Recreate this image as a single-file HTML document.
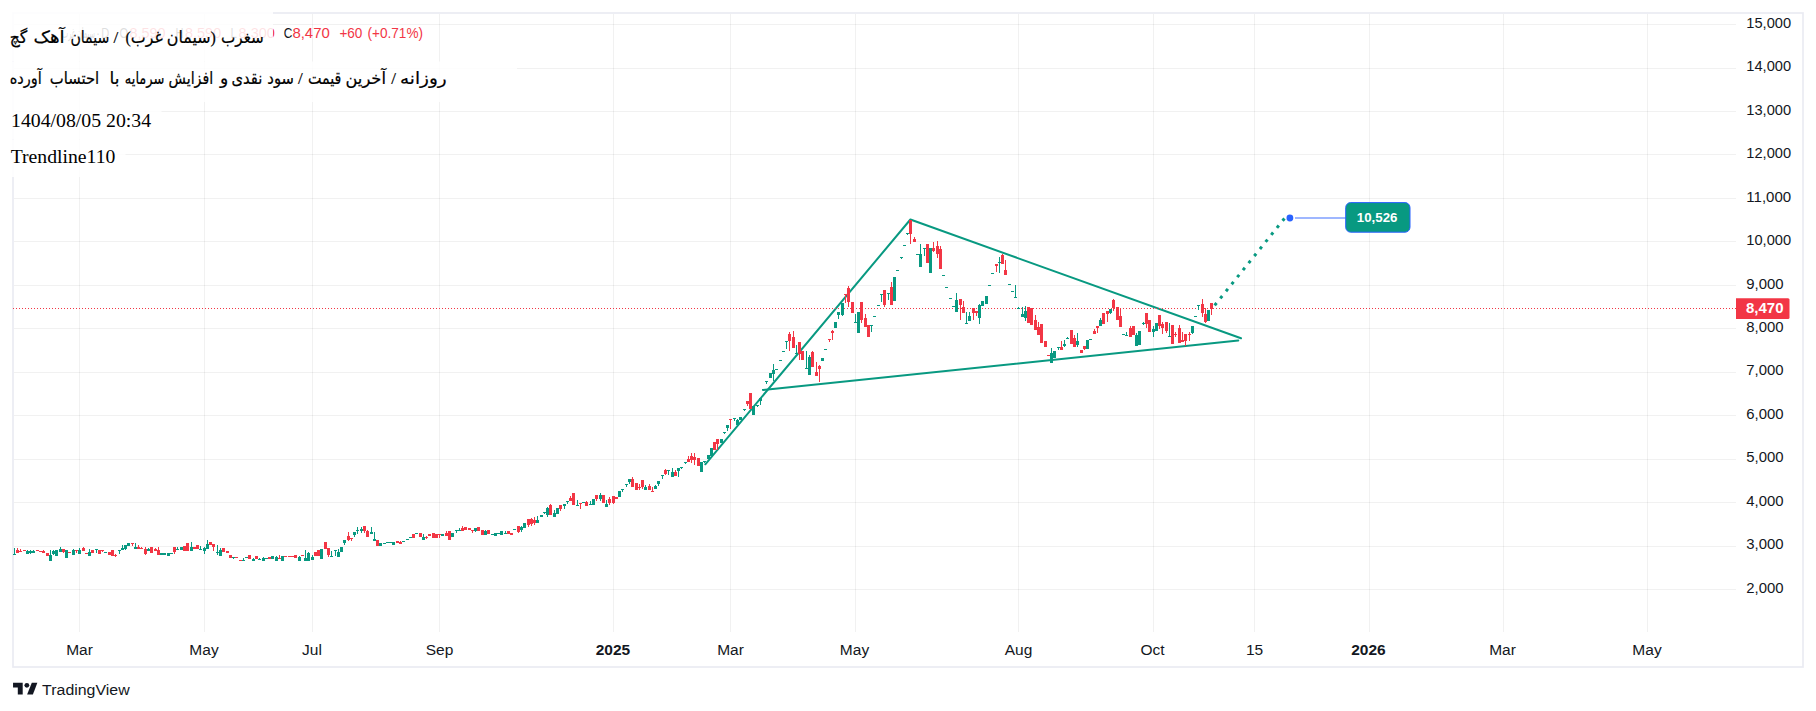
<!DOCTYPE html>
<html lang="fa"><head><meta charset="utf-8"><title>TradingView chart</title>
<style>
html,body{margin:0;padding:0;background:#fff;}
body{width:1816px;height:711px;overflow:hidden;position:relative;}
svg{position:absolute;left:0;top:0;display:block;}
text{font-family:"Liberation Sans","DejaVu Sans",sans-serif;}
.ax{font-size:15.5px;fill:#131722;}
.ser{font-family:"Liberation Serif","DejaVu Sans",serif;fill:#000;}
.fa{font-family:"Liberation Serif","DejaVu Sans",serif;fill:#000;}
</style></head><body>
<svg width="1816" height="711" viewBox="0 0 1816 711" role="img" aria-label="TradingView chart">
<rect x="0" y="0" width="1816" height="711" fill="#fff"/>
<g stroke="#2a2e2c" stroke-opacity="0.066" stroke-width="1" shape-rendering="crispEdges">
<line x1="79.5" y1="14" x2="79.5" y2="632"/>
<line x1="204.5" y1="14" x2="204.5" y2="632"/>
<line x1="312.5" y1="14" x2="312.5" y2="632"/>
<line x1="439.5" y1="14" x2="439.5" y2="632"/>
<line x1="613.5" y1="14" x2="613.5" y2="632"/>
<line x1="730.5" y1="14" x2="730.5" y2="632"/>
<line x1="855.5" y1="14" x2="855.5" y2="632"/>
<line x1="1018.5" y1="14" x2="1018.5" y2="632"/>
<line x1="1153.5" y1="14" x2="1153.5" y2="632"/>
<line x1="1254.5" y1="14" x2="1254.5" y2="632"/>
<line x1="1369.5" y1="14" x2="1369.5" y2="632"/>
<line x1="1503.5" y1="14" x2="1503.5" y2="632"/>
<line x1="1647.5" y1="14" x2="1647.5" y2="632"/>
<line x1="14" y1="589.5" x2="1736" y2="589.5"/>
<line x1="14" y1="546.5" x2="1736" y2="546.5"/>
<line x1="14" y1="502.5" x2="1736" y2="502.5"/>
<line x1="14" y1="459.5" x2="1736" y2="459.5"/>
<line x1="14" y1="415.5" x2="1736" y2="415.5"/>
<line x1="14" y1="372.5" x2="1736" y2="372.5"/>
<line x1="14" y1="328.5" x2="1736" y2="328.5"/>
<line x1="14" y1="285.5" x2="1736" y2="285.5"/>
<line x1="14" y1="241.5" x2="1736" y2="241.5"/>
<line x1="14" y1="198.5" x2="1736" y2="198.5"/>
<line x1="14" y1="154.5" x2="1736" y2="154.5"/>
<line x1="14" y1="111.5" x2="1736" y2="111.5"/>
<line x1="14" y1="68.5" x2="1736" y2="68.5"/>
<line x1="14" y1="24.5" x2="1736" y2="24.5"/>
</g>
<rect x="13" y="13" width="1790" height="654" fill="none" stroke="#eaebf3" stroke-width="1.7"/>
<g stroke="#089981" stroke-width="2" stroke-linecap="round" stroke-linejoin="round" fill="none">
<polyline points="705.3,464.3 910.4,219.5 1241,338.3"/>
<line x1="763" y1="390" x2="1238.3" y2="340.5"/>
</g>
<line x1="13" y1="308.5" x2="1736" y2="308.5" stroke="#f23645" stroke-width="1" stroke-dasharray="1 2" shape-rendering="crispEdges"/>
<path fill="#089981" shape-rendering="crispEdges" d="M13 554h3v1h-3zM14 548h1v6h-1zM26 551h3v3h-3zM27 550h1v1h-1zM29 551h3v2h-3zM30 550h1v1h-1zM30 553h1v1h-1zM32 551h3v2h-3zM33 550h1v1h-1zM49 555h3v6h-3zM50 550h1v5h-1zM52 551h3v3h-3zM53 550h1v1h-1zM53 554h1v1h-1zM55 550h3v6h-3zM59 549h3v3h-3zM60 547h1v2h-1zM65 550h3v8h-3zM72 550h3v5h-3zM73 549h1v1h-1zM78 550h3v4h-3zM79 548h1v2h-1zM88 552h3v4h-3zM89 549h1v3h-1zM95 549h3v1h-3zM96 550h1v3h-1zM104 552h3v1h-3zM118 550h3v1h-3zM119 551h1v3h-1zM121 548h3v2h-3zM122 545h1v3h-1zM124 545h3v4h-3zM125 549h1v1h-1zM127 543h3v3h-3zM134 547h3v2h-3zM135 543h1v4h-1zM147 549h3v2h-3zM148 548h1v1h-1zM160 553h3v2h-3zM163 553h3v2h-3zM167 553h3v3h-3zM170 553h3v1h-3zM176 549h3v1h-3zM177 547h1v2h-1zM180 547h3v3h-3zM190 547h3v4h-3zM191 542h1v5h-1zM199 549h3v1h-3zM200 546h1v3h-1zM203 548h3v3h-3zM204 547h1v1h-1zM204 551h1v3h-1zM206 544h3v5h-3zM207 540h1v4h-1zM216 552h3v1h-3zM217 545h1v7h-1zM217 553h1v2h-1zM219 550h3v6h-3zM220 548h1v2h-1zM232 557h3v1h-3zM233 558h1v1h-1zM242 560h3v1h-3zM243 558h1v2h-1zM245 557h3v1h-3zM252 559h3v2h-3zM253 558h1v1h-1zM258 559h3v1h-3zM259 558h1v1h-1zM262 558h3v3h-3zM263 557h1v1h-1zM265 558h3v1h-3zM271 556h3v3h-3zM275 557h3v4h-3zM276 556h1v1h-1zM281 556h3v5h-3zM298 557h3v4h-3zM299 556h1v1h-1zM304 558h3v3h-3zM305 550h1v8h-1zM307 553h3v8h-3zM308 552h1v1h-1zM311 557h3v3h-3zM312 555h1v2h-1zM320 549h3v10h-3zM330 556h3v1h-3zM331 551h1v5h-1zM334 550h3v1h-3zM335 551h1v5h-1zM337 552h3v5h-3zM338 549h1v3h-1zM340 547h3v5h-3zM343 540h3v3h-3zM344 543h1v2h-1zM353 532h3v3h-3zM354 535h1v2h-1zM356 530h3v1h-3zM357 527h1v3h-1zM357 531h1v3h-1zM360 529h3v2h-3zM361 527h1v2h-1zM361 531h1v2h-1zM370 532h3v2h-3zM371 527h1v5h-1zM373 539h3v2h-3zM374 532h1v7h-1zM379 543h3v3h-3zM383 543h3v1h-3zM386 542h3v1h-3zM389 542h3v1h-3zM392 542h3v3h-3zM402 541h3v1h-3zM406 539h3v1h-3zM409 537h3v1h-3zM415 533h3v1h-3zM422 537h3v3h-3zM423 534h1v3h-1zM441 534h3v2h-3zM451 533h3v4h-3zM455 530h3v1h-3zM456 531h1v2h-1zM458 530h3v1h-3zM459 528h1v2h-1zM474 528h3v3h-3zM475 531h1v1h-1zM484 531h3v4h-3zM485 530h1v1h-1zM491 534h3v1h-3zM494 533h3v3h-3zM497 533h3v1h-3zM500 531h3v4h-3zM504 533h3v1h-3zM505 531h1v2h-1zM513 529h3v1h-3zM520 527h3v3h-3zM521 526h1v1h-1zM521 530h1v2h-1zM523 523h3v5h-3zM536 520h3v3h-3zM537 516h1v4h-1zM540 515h3v2h-3zM543 512h3v1h-3zM544 513h1v1h-1zM546 508h3v7h-3zM547 507h1v1h-1zM547 515h1v2h-1zM553 513h3v4h-3zM554 510h1v3h-1zM556 508h3v6h-3zM563 504h3v2h-3zM564 506h1v3h-1zM566 501h3v1h-3zM567 502h1v2h-1zM576 505h3v1h-3zM577 500h1v5h-1zM582 502h3v1h-3zM589 504h3v1h-3zM590 501h1v3h-1zM592 499h3v6h-3zM599 495h3v4h-3zM600 493h1v2h-1zM600 499h1v2h-1zM605 504h3v3h-3zM606 500h1v4h-1zM618 491h3v6h-3zM621 489h3v1h-3zM622 490h1v2h-1zM625 484h3v1h-3zM626 485h1v2h-1zM628 479h3v3h-3zM629 482h1v2h-1zM644 487h3v3h-3zM645 485h1v2h-1zM654 486h3v3h-3zM655 485h1v1h-1zM657 481h3v3h-3zM658 484h1v2h-1zM661 475h3v1h-3zM662 476h1v3h-1zM667 470h3v1h-3zM668 471h1v4h-1zM671 472h3v5h-3zM672 468h1v4h-1zM677 468h3v3h-3zM678 471h1v6h-1zM680 467h3v1h-3zM681 468h1v1h-1zM684 462h3v1h-3zM685 463h1v1h-1zM700 462h3v10h-3zM703 461h3v1h-3zM704 462h1v1h-1zM707 455h3v4h-3zM710 448h3v8h-3zM720 439h3v4h-3zM723 432h3v1h-3zM724 433h1v1h-1zM726 425h3v3h-3zM727 428h1v3h-1zM733 418h3v1h-3zM734 419h1v2h-1zM736 420h3v5h-3zM737 419h1v1h-1zM739 417h3v3h-3zM743 409h3v1h-3zM744 410h1v1h-1zM752 406h3v9h-3zM756 405h3v1h-3zM757 406h1v1h-1zM759 398h3v3h-3zM760 401h1v4h-1zM762 389h3v1h-3zM765 381h3v1h-3zM766 382h1v2h-1zM769 373h3v5h-3zM772 370h3v4h-3zM773 364h1v6h-1zM773 374h1v7h-1zM775 369h3v1h-3zM779 360h3v1h-3zM782 351h3v1h-3zM785 341h3v1h-3zM786 342h1v7h-1zM795 353h3v1h-3zM796 345h1v8h-1zM805 368h3v1h-3zM806 351h1v17h-1zM808 357h3v18h-3zM809 355h1v2h-1zM821 358h3v3h-3zM824 349h3v1h-3zM834 322h3v6h-3zM837 312h3v3h-3zM838 315h1v4h-1zM841 303h3v12h-3zM842 315h1v1h-1zM854 322h3v1h-3zM855 314h1v8h-1zM857 312h3v21h-3zM870 325h3v1h-3zM871 326h1v6h-1zM873 316h3v1h-3zM877 305h3v1h-3zM880 294h3v1h-3zM881 295h1v7h-1zM887 293h3v1h-3zM888 294h1v6h-1zM893 277h3v24h-3zM896 270h3v1h-3zM900 257h3v1h-3zM901 258h1v1h-1zM903 245h3v1h-3zM906 233h3v1h-3zM907 234h1v1h-1zM916 254h3v1h-3zM919 254h3v13h-3zM920 244h1v10h-1zM923 248h3v1h-3zM924 249h1v7h-1zM929 248h3v25h-3zM942 275h3v1h-3zM945 287h3v1h-3zM949 298h3v1h-3zM952 306h3v1h-3zM955 300h3v12h-3zM956 293h1v7h-1zM965 323h3v1h-3zM966 312h1v11h-1zM968 316h3v5h-3zM969 312h1v4h-1zM978 305h3v13h-3zM979 304h1v1h-1zM979 318h1v6h-1zM981 301h3v5h-3zM985 296h3v8h-3zM988 285h3v1h-3zM991 273h3v1h-3zM998 262h3v1h-3zM999 257h1v5h-1zM999 263h1v10h-1zM1008 284h3v1h-3zM1011 291h3v1h-3zM1014 297h3v1h-3zM1015 285h1v12h-1zM1017 308h3v1h-3zM1018 307h1v1h-1zM1021 314h3v3h-3zM1022 307h1v7h-1zM1024 311h3v7h-3zM1025 306h1v5h-1zM1025 318h1v3h-1zM1050 353h3v10h-3zM1051 348h1v5h-1zM1053 351h3v7h-3zM1057 347h3v1h-3zM1058 348h1v2h-1zM1063 344h3v2h-3zM1064 340h1v4h-1zM1064 346h1v1h-1zM1066 338h3v1h-3zM1067 337h1v1h-1zM1076 341h3v4h-3zM1077 333h1v8h-1zM1077 345h1v2h-1zM1086 340h3v9h-3zM1089 339h3v1h-3zM1099 320h3v6h-3zM1100 318h1v2h-1zM1109 309h3v4h-3zM1110 313h1v1h-1zM1122 334h3v1h-3zM1125 335h3v1h-3zM1126 332h1v3h-1zM1135 335h3v11h-3zM1136 333h1v2h-1zM1138 331h3v14h-3zM1142 323h3v1h-3zM1143 322h1v1h-1zM1143 324h1v1h-1zM1152 329h3v3h-3zM1153 326h1v3h-1zM1153 332h1v5h-1zM1155 323h3v8h-3zM1168 336h3v1h-3zM1169 323h1v13h-1zM1191 326h3v7h-3zM1192 333h1v1h-1zM1194 316h3v1h-3zM1197 305h3v1h-3zM1198 306h1v4h-1zM1207 310h3v11h-3z"/>
<path fill="#f23645" shape-rendering="crispEdges" d="M16 550h3v3h-3zM17 548h1v2h-1zM19 551h3v1h-3zM20 549h1v2h-1zM23 550h3v1h-3zM36 550h3v1h-3zM39 551h3v1h-3zM42 551h3v2h-3zM43 550h1v1h-1zM46 553h3v3h-3zM62 549h3v3h-3zM63 552h1v1h-1zM68 552h3v1h-3zM75 550h3v1h-3zM76 551h1v2h-1zM82 548h3v3h-3zM83 547h1v1h-1zM85 553h3v1h-3zM91 550h3v3h-3zM98 550h3v4h-3zM101 550h3v1h-3zM102 551h1v1h-1zM108 552h3v3h-3zM111 550h3v6h-3zM114 555h3v1h-3zM115 554h1v1h-1zM115 556h1v1h-1zM131 543h3v1h-3zM132 544h1v2h-1zM137 547h3v2h-3zM138 545h1v2h-1zM140 548h3v1h-3zM141 547h1v1h-1zM144 549h3v5h-3zM145 547h1v2h-1zM145 554h1v1h-1zM150 547h3v6h-3zM154 549h3v2h-3zM155 548h1v1h-1zM157 550h3v5h-3zM158 547h1v3h-1zM173 547h3v5h-3zM174 552h1v2h-1zM183 546h3v5h-3zM186 543h3v8h-3zM193 547h3v2h-3zM196 545h3v4h-3zM209 542h3v3h-3zM212 544h3v3h-3zM213 547h1v4h-1zM222 548h3v4h-3zM226 551h3v2h-3zM229 555h3v3h-3zM235 557h3v1h-3zM239 560h3v1h-3zM248 555h3v4h-3zM255 556h3v3h-3zM268 557h3v2h-3zM278 558h3v1h-3zM279 555h1v3h-1zM284 556h3v1h-3zM288 556h3v1h-3zM291 556h3v1h-3zM294 555h3v3h-3zM301 555h3v1h-3zM314 552h3v4h-3zM317 550h3v6h-3zM324 542h3v7h-3zM327 548h3v7h-3zM328 555h1v2h-1zM347 536h3v4h-3zM348 532h1v4h-1zM348 540h1v1h-1zM350 538h3v1h-3zM351 539h1v2h-1zM363 526h3v5h-3zM364 531h1v2h-1zM366 531h3v6h-3zM367 530h1v1h-1zM376 540h3v6h-3zM396 541h3v2h-3zM399 542h3v2h-3zM400 541h1v1h-1zM412 534h3v4h-3zM419 533h3v4h-3zM425 537h3v1h-3zM426 536h1v1h-1zM426 538h1v1h-1zM428 534h3v2h-3zM432 533h3v5h-3zM435 534h3v4h-3zM438 534h3v1h-3zM439 535h1v3h-1zM445 533h3v3h-3zM446 531h1v2h-1zM448 531h3v9h-3zM461 528h3v3h-3zM462 526h1v2h-1zM464 527h3v3h-3zM468 528h3v2h-3zM471 530h3v1h-3zM472 531h1v2h-1zM477 527h3v4h-3zM481 530h3v5h-3zM487 530h3v4h-3zM507 531h3v3h-3zM510 533h3v2h-3zM517 526h3v6h-3zM518 532h1v1h-1zM527 519h3v6h-3zM528 525h1v2h-1zM530 519h3v5h-3zM531 518h1v1h-1zM531 524h1v2h-1zM533 520h3v3h-3zM534 517h1v3h-1zM534 523h1v2h-1zM549 505h3v10h-3zM550 504h1v1h-1zM559 505h3v4h-3zM560 509h1v2h-1zM569 498h3v3h-3zM570 496h1v2h-1zM572 493h3v12h-3zM579 503h3v1h-3zM580 504h1v5h-1zM585 502h3v4h-3zM586 501h1v1h-1zM595 495h3v4h-3zM596 499h1v2h-1zM602 495h3v8h-3zM608 499h3v4h-3zM609 497h1v2h-1zM609 503h1v2h-1zM612 496h3v7h-3zM613 503h1v1h-1zM615 497h3v2h-3zM631 479h3v8h-3zM632 477h1v2h-1zM635 483h3v7h-3zM638 487h3v1h-3zM639 484h1v3h-1zM639 488h1v2h-1zM641 480h3v7h-3zM642 487h1v2h-1zM648 486h3v4h-3zM649 484h1v2h-1zM651 491h3v1h-3zM652 487h1v4h-1zM664 470h3v4h-3zM665 469h1v1h-1zM665 474h1v1h-1zM674 472h3v4h-3zM675 470h1v2h-1zM687 459h3v3h-3zM688 456h1v3h-1zM690 456h3v4h-3zM691 453h1v3h-1zM691 460h1v3h-1zM693 457h3v3h-3zM694 453h1v4h-1zM694 460h1v5h-1zM697 458h3v8h-3zM713 442h3v8h-3zM716 439h3v5h-3zM717 444h1v6h-1zM729 419h3v1h-3zM730 420h1v9h-1zM746 401h3v3h-3zM747 404h1v2h-1zM749 393h3v16h-3zM788 334h3v7h-3zM789 332h1v2h-1zM789 341h1v10h-1zM792 337h3v11h-3zM793 331h1v6h-1zM798 342h3v12h-3zM799 354h1v6h-1zM801 351h3v9h-3zM811 352h3v15h-3zM812 351h1v1h-1zM815 372h3v4h-3zM816 362h1v10h-1zM818 366h3v3h-3zM819 365h1v1h-1zM819 369h1v13h-1zM828 339h3v1h-3zM829 340h1v2h-1zM831 331h3v2h-3zM832 330h1v1h-1zM832 333h1v7h-1zM844 294h3v1h-3zM845 295h1v8h-1zM847 288h3v14h-3zM848 286h1v2h-1zM848 302h1v5h-1zM851 302h3v11h-3zM860 302h3v18h-3zM861 320h1v3h-1zM864 318h3v9h-3zM865 314h1v4h-1zM867 325h3v12h-3zM883 290h3v15h-3zM884 305h1v2h-1zM890 287h3v18h-3zM891 282h1v5h-1zM909 220h3v14h-3zM910 234h1v10h-1zM913 239h3v3h-3zM914 237h1v2h-1zM926 244h3v19h-3zM932 248h3v3h-3zM933 242h1v6h-1zM933 251h1v1h-1zM936 246h3v8h-3zM937 241h1v5h-1zM937 254h1v4h-1zM939 249h3v20h-3zM940 246h1v3h-1zM959 299h3v6h-3zM960 305h1v15h-1zM962 307h3v6h-3zM963 301h1v6h-1zM972 308h3v5h-3zM973 313h1v7h-1zM975 311h3v2h-3zM976 313h1v3h-1zM995 264h3v2h-3zM996 266h1v6h-1zM1001 255h3v9h-3zM1002 254h1v1h-1zM1004 270h3v5h-3zM1005 260h1v10h-1zM1027 307h3v16h-3zM1030 308h3v17h-3zM1034 320h3v10h-3zM1035 315h1v5h-1zM1037 327h3v8h-3zM1038 322h1v5h-1zM1040 324h3v19h-3zM1044 341h3v6h-3zM1047 355h3v1h-3zM1060 347h3v3h-3zM1061 341h1v6h-1zM1070 330h3v14h-3zM1073 338h3v9h-3zM1074 335h1v3h-1zM1080 350h3v3h-3zM1083 346h3v3h-3zM1084 349h1v1h-1zM1093 331h3v3h-3zM1094 329h1v2h-1zM1096 326h3v2h-3zM1097 328h1v5h-1zM1102 313h3v11h-3zM1106 311h3v3h-3zM1107 314h1v8h-1zM1112 300h3v8h-3zM1113 299h1v1h-1zM1113 308h1v3h-1zM1116 307h3v13h-3zM1119 316h3v11h-3zM1120 308h1v8h-1zM1129 328h3v9h-3zM1130 326h1v2h-1zM1132 326h3v9h-3zM1145 313h3v11h-3zM1146 324h1v4h-1zM1148 320h3v12h-3zM1158 315h3v11h-3zM1159 326h1v3h-1zM1161 324h3v4h-3zM1162 322h1v2h-1zM1162 328h1v6h-1zM1165 322h3v9h-3zM1166 331h1v2h-1zM1171 325h3v19h-3zM1174 334h3v1h-3zM1175 332h1v2h-1zM1175 335h1v2h-1zM1178 328h3v15h-3zM1179 325h1v3h-1zM1181 340h3v2h-3zM1182 332h1v8h-1zM1184 334h3v7h-3zM1185 341h1v5h-1zM1188 334h3v1h-3zM1189 332h1v2h-1zM1189 335h1v6h-1zM1201 304h3v9h-3zM1202 299h1v5h-1zM1202 313h1v4h-1zM1204 314h3v8h-3zM1205 308h1v6h-1zM1205 322h1v1h-1zM1210 303h3v6h-3zM1211 309h1v6h-1z"/>
<line x1="1214.66" y1="305.37" x2="1284.5" y2="218.4" stroke="#089981" stroke-width="3" stroke-dasharray="3 6.04" fill="none"/>
<line x1="1295" y1="218" x2="1346" y2="218" stroke="#7f9fff" stroke-width="1.7"/>
<circle cx="1289.9" cy="218" r="3.4" fill="#2962ff"/>
<rect x="1345.7" y="202.6" width="64.3" height="29.6" rx="5" ry="5" fill="#089981" stroke="#2962ff" stroke-width="1"/>
<text x="1356.8" y="222" font-size="13.3" font-weight="bold" fill="#fff" textLength="40.6" lengthAdjust="spacingAndGlyphs">10,526</text>
<text class="ax" x="1746.3" y="592.7" textLength="37.3" lengthAdjust="spacingAndGlyphs">2,000</text>
<text class="ax" x="1746.3" y="549.2" textLength="37.3" lengthAdjust="spacingAndGlyphs">3,000</text>
<text class="ax" x="1746.3" y="505.8" textLength="37.3" lengthAdjust="spacingAndGlyphs">4,000</text>
<text class="ax" x="1746.3" y="462.3" textLength="37.3" lengthAdjust="spacingAndGlyphs">5,000</text>
<text class="ax" x="1746.3" y="418.9" textLength="37.3" lengthAdjust="spacingAndGlyphs">6,000</text>
<text class="ax" x="1746.3" y="375.4" textLength="37.3" lengthAdjust="spacingAndGlyphs">7,000</text>
<text class="ax" x="1746.3" y="332.0" textLength="37.3" lengthAdjust="spacingAndGlyphs">8,000</text>
<text class="ax" x="1746.3" y="288.5" textLength="37.3" lengthAdjust="spacingAndGlyphs">9,000</text>
<text class="ax" x="1746.3" y="245.0" textLength="44.8" lengthAdjust="spacingAndGlyphs">10,000</text>
<text class="ax" x="1746.3" y="201.6" textLength="44.8" lengthAdjust="spacingAndGlyphs">11,000</text>
<text class="ax" x="1746.3" y="158.1" textLength="44.8" lengthAdjust="spacingAndGlyphs">12,000</text>
<text class="ax" x="1746.3" y="114.7" textLength="44.8" lengthAdjust="spacingAndGlyphs">13,000</text>
<text class="ax" x="1746.3" y="71.3" textLength="44.8" lengthAdjust="spacingAndGlyphs">14,000</text>
<text class="ax" x="1746.3" y="27.8" textLength="44.8" lengthAdjust="spacingAndGlyphs">15,000</text>
<path d="M1736 298.2h52a1.5 1.5 0 0 1 1.5 1.5v17.7a1.5 1.5 0 0 1 -1.5 1.5h-52z" fill="#f23645"/>
<text x="1746" y="313" font-size="15.2" font-weight="bold" fill="#fff" textLength="37.5" lengthAdjust="spacingAndGlyphs">8,470</text>
<text class="ax" x="79.5" y="655" text-anchor="middle" font-size="15.3">Mar</text>
<text class="ax" x="204" y="655" text-anchor="middle" font-size="15.3">May</text>
<text class="ax" x="312" y="655" text-anchor="middle" font-size="15.3">Jul</text>
<text class="ax" x="439.5" y="655" text-anchor="middle" font-size="15.3">Sep</text>
<text class="ax" x="613" y="655" text-anchor="middle" font-weight="bold" font-size="16.3">2025</text>
<text class="ax" x="730.5" y="655" text-anchor="middle" font-size="15.3">Mar</text>
<text class="ax" x="854.5" y="655" text-anchor="middle" font-size="15.3">May</text>
<text class="ax" x="1018.5" y="655" text-anchor="middle" font-size="15.3">Aug</text>
<text class="ax" x="1152.5" y="655" text-anchor="middle" font-size="15.3">Oct</text>
<text class="ax" x="1254.5" y="655" text-anchor="middle" font-size="15.3">15</text>
<text class="ax" x="1368.5" y="655" text-anchor="middle" font-weight="bold" font-size="16.3">2026</text>
<text class="ax" x="1502.5" y="655" text-anchor="middle" font-size="15.3">Mar</text>
<text class="ax" x="1647" y="655" text-anchor="middle" font-size="15.3">May</text>
<g font-size="14.3">
<text x="62" y="37.8" fill="#131722" textLength="33" lengthAdjust="spacingAndGlyphs">سیمان غرب</text>
<text x="96" y="37.8" fill="#131722" textLength="4" lengthAdjust="spacingAndGlyphs">·</text>
<text x="101.2" y="37.8" fill="#131722" textLength="8" lengthAdjust="spacingAndGlyphs">D</text>
<text x="119.4" y="37.8" fill="#131722" textLength="8.6" lengthAdjust="spacingAndGlyphs">O</text>
<text x="129.4" y="37.8" fill="#f23645" textLength="36.2" lengthAdjust="spacingAndGlyphs">8,590</text>
<text x="175.6" y="37.8" fill="#131722" textLength="8" lengthAdjust="spacingAndGlyphs">H</text>
<text x="185" y="37.8" fill="#f23645" textLength="36.2" lengthAdjust="spacingAndGlyphs">8,590</text>
<text x="230.6" y="37.8" fill="#131722" textLength="6.4" lengthAdjust="spacingAndGlyphs">L</text>
<text x="238.6" y="37.8" fill="#f23645" textLength="36.2" lengthAdjust="spacingAndGlyphs">8,300</text>
<text x="283.8" y="37.8" fill="#131722" textLength="8.6" lengthAdjust="spacingAndGlyphs">C</text>
<text x="292.4" y="37.8" fill="#f23645" textLength="37.4" lengthAdjust="spacingAndGlyphs">8,470</text>
<text x="339.4" y="37.8" fill="#f23645" textLength="23" lengthAdjust="spacingAndGlyphs">+60</text>
<text x="367.6" y="37.8" fill="#f23645" textLength="55.4" lengthAdjust="spacingAndGlyphs">(+0.71%)</text>
</g>
<g fill="#fff" fill-opacity="0.86">
<rect x="12" y="12" width="261" height="49.5"/>
<rect x="12" y="61.5" width="505" height="40.5"/>
<rect x="12" y="102" width="149.5" height="37.5"/>
<rect x="12" y="139.5" width="113.5" height="37.5"/>
</g>
<text class="fa" y="43" font-size="17" lang="fa" stroke="#000" stroke-width="0.22"><tspan x="221" textLength="42.8" lengthAdjust="spacingAndGlyphs">سغرب</tspan> <tspan x="125.5" textLength="90.4" lengthAdjust="spacingAndGlyphs">(سیمان غرب)</tspan> <tspan x="113.4">/</tspan> <tspan x="70.4" textLength="39" lengthAdjust="spacingAndGlyphs">سیمان</tspan> <tspan x="33.6" textLength="31" lengthAdjust="spacingAndGlyphs">آهک</tspan> <tspan x="9.7" textLength="17.6" lengthAdjust="spacingAndGlyphs">گچ</tspan></text>
<text class="fa" y="84" font-size="17" lang="fa" stroke="#000" stroke-width="0.22"><tspan x="400" textLength="46.6" lengthAdjust="spacingAndGlyphs">روزانه</tspan> <tspan x="391.2">/</tspan> <tspan x="345.5" textLength="40.4" lengthAdjust="spacingAndGlyphs">آخرین</tspan> <tspan x="308" textLength="33.4" lengthAdjust="spacingAndGlyphs">قیمت</tspan> <tspan x="298">/</tspan> <tspan x="267.3" textLength="26.6" lengthAdjust="spacingAndGlyphs">سود</tspan> <tspan x="231.6" textLength="30.8" lengthAdjust="spacingAndGlyphs">نقدی</tspan> <tspan x="220">و</tspan> <tspan x="168.6" textLength="44.6" lengthAdjust="spacingAndGlyphs">افزایش</tspan> <tspan x="124.8" textLength="39.6" lengthAdjust="spacingAndGlyphs">سرمایه</tspan> <tspan x="109.6">با</tspan> <tspan x="49.8" textLength="49.4" lengthAdjust="spacingAndGlyphs">احتساب</tspan> <tspan x="9.7" textLength="32" lengthAdjust="spacingAndGlyphs">آورده</tspan></text>
<text class="ser" x="11" y="127" font-size="19.8">1404/08/05 20:34</text>
<text class="ser" x="10.7" y="163" font-size="19.7">Trendline110</text>
<g fill="#131722">
<path d="M13.05 682.8h9.65v11.8h-4.9v-7.1h-4.75z"/>
<circle cx="26.85" cy="685.3" r="2.4"/>
<path d="M31.8 682.8h5.55l-4.45 11.8h-5.8z"/>
</g>
<text x="42.1" y="694.6" font-size="15.4" fill="#131722" textLength="87.6" lengthAdjust="spacingAndGlyphs">TradingView</text>
</svg>
</body></html>
